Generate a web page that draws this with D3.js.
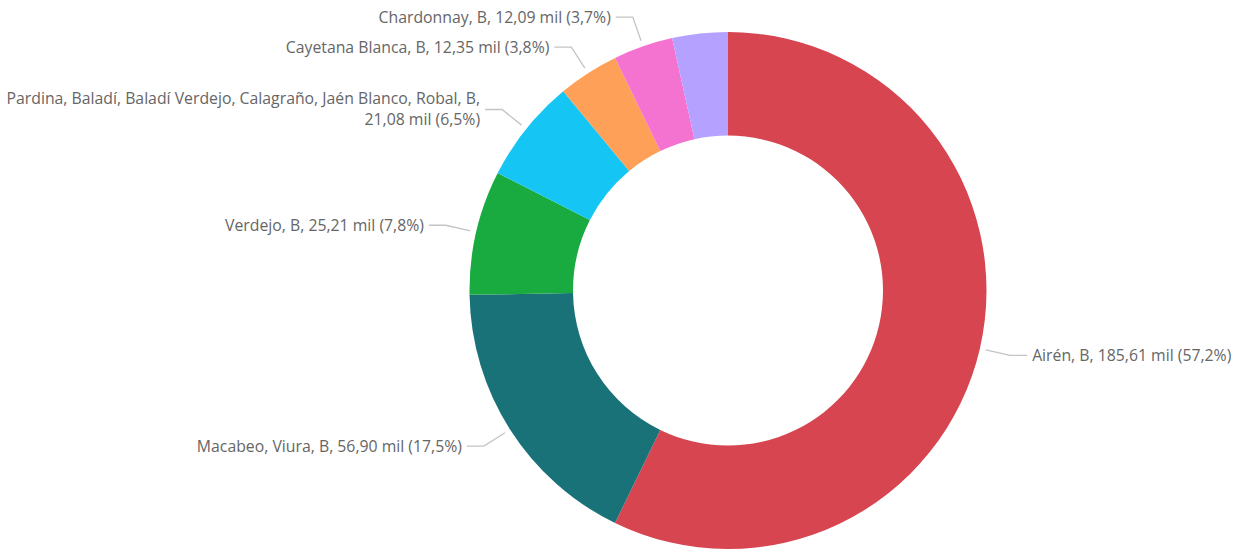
<!DOCTYPE html>
<html>
<head>
<meta charset="utf-8">
<script src="https://cdn.jsdelivr.net/npm/d3@7"></script>
<style>
  html, body { margin: 0; padding: 0; background: #fff; }
  svg { display: block; }
  text { font-family: "Segoe UI", "Open Sans", "Noto Sans", sans-serif; }
</style>
</head>
<body>
<svg id="chart" width="1240" height="549"></svg>
<script>
// Data
const categories = [
  "Airén, B",
  "Macabeo, Viura, B",
  "Verdejo, B",
  "Pardina, Baladí, Baladí Verdejo, Calagraño, Jaén Blanco, Robal, B,",
  "Cayetana Blanca, B",
  "Chardonnay, B",
  "Otras"
];
const values = [185.61, 56.90, 25.21, 21.08, 12.35, 12.09, 11.26];
const showLabel = [true, true, true, true, true, true, false];
const colors = ["#D64550", "#197278", "#1AAB40", "#15C6F4", "#FFA058", "#F472D0", "#B5A1FF"];

const svg = d3.select("#chart");
const cx = 728, cy = 290.5;
const outerR = 258.5, innerR = 155;

const total = d3.sum(values);
const data = categories.map((c, i) => ({ name: c, value: values[i], color: colors[i], show: showLabel[i] }));

const pie = d3.pie().value(d => d.value).sort(null);
const arcs = pie(data);
const arc = d3.arc().innerRadius(innerR).outerRadius(outerR);

const g = svg.append("g").attr("transform", `translate(${cx},${cy})`);

g.selectAll("path.slice")
  .data(arcs)
  .join("path")
  .attr("class", "slice")
  .attr("d", arc)
  .attr("fill", d => d.data.color);

const fmt = v => v.toFixed(2).replace(".", ",");
const fmtPct = v => (v * 100).toFixed(1).replace(".", ",");

const startArc = d3.arc().innerRadius(outerR + 6).outerRadius(outerR + 6);
const elbowArc = d3.arc().innerRadius(outerR + 31).outerRadius(outerR + 31);

arcs.filter(d => d.data.show).forEach(d => {
  const mid = (d.startAngle + d.endAngle) / 2;
  const right = mid < Math.PI;
  const p1 = startArc.centroid(d);
  const p2 = elbowArc.centroid(d);
  const p3 = [p2[0] + (right ? 17 : -17), p2[1]];
  g.append("polyline")
    .attr("points", [p1, p2, p3].map(p => p.join(",")).join(" "))
    .attr("fill", "none")
    .attr("stroke", "#c4c4c4")
    .attr("stroke-width", 1.3);

  const valueText = `${fmt(d.data.value)} mil (${fmtPct(d.data.value / total)}%)`;
  const tx = p3[0] + (right ? 5 : -5);
  const anchor = right ? "start" : "end";
  const t = g.append("text")
    .attr("x", tx)
    .attr("y", p3[1])
    .attr("text-anchor", anchor)
    .attr("fill", "#666666")
    .attr("font-size", 15.8);
  if (d.data.name.endsWith(",")) {
    t.append("tspan").attr("x", tx).attr("dy", "-0.32em").text(d.data.name);
    t.append("tspan").attr("x", tx).attr("dy", "1.33em").text(valueText);
  } else {
    t.attr("dy", "0.35em").text(`${d.data.name}, ${valueText}`);
  }
});
</script>
</body>
</html>
